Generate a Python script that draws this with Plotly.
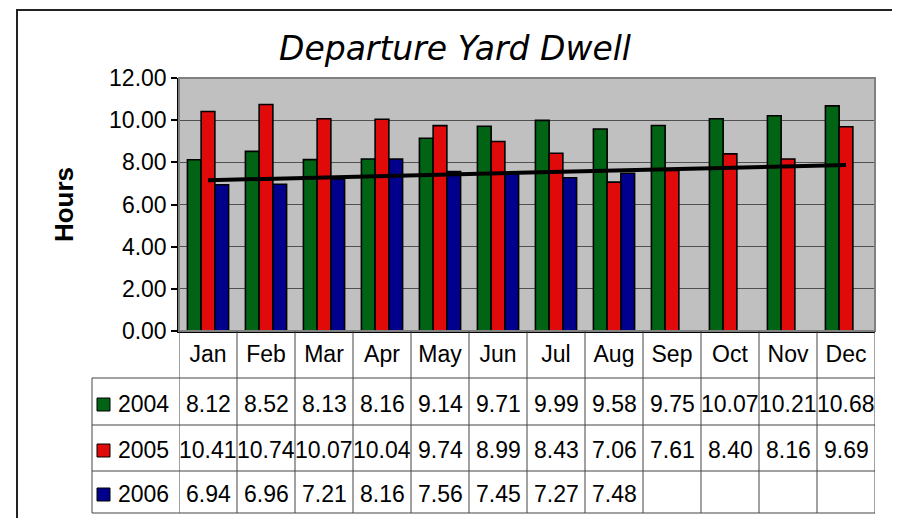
import plotly.graph_objects as go

# ---------------- data ----------------
months = ["Jan", "Feb", "Mar", "Apr", "May", "Jun", "Jul", "Aug", "Sep", "Oct", "Nov", "Dec"]
series_names = ["2004", "2005", "2006"]
y2004 = [8.12, 8.52, 8.13, 8.16, 9.14, 9.71, 9.99, 9.58, 9.75, 10.07, 10.21, 10.68]
y2005 = [10.41, 10.74, 10.07, 10.04, 9.74, 8.99, 8.43, 7.06, 7.61, 8.40, 8.16, 9.69]
y2006 = [6.94, 6.96, 7.21, 8.16, 7.56, 7.45, 7.27, 7.48, None, None, None, None]
trend_x = ["Jan", "Dec"]
trend_y = [7.15, 7.87]
y_ticks = [0, 2, 4, 6, 8, 10, 12]

colors = ["#006414", "#E00A0A", "#00008C"]
series = [y2004, y2005, y2006]

# ---------------- geometry (pixels, page coordinates) ----------------
OFF = 8  # default body margin of the html page
W, H = 900 - OFF, 518 - OFF
PL, PR, PT, PB = 179, 875, 78, 331  # plot area in page pixels


def px(p):
    return (p - PL) / (PR - PL)


def py(p):
    return (PB - p) / (PB - PT)


FONT = "Liberation Sans, Arial, sans-serif"
FS = 23

fig = go.Figure()
for name, vals, col in zip(series_names, series, colors):
    fig.add_trace(go.Bar(
        x=months, y=vals, name=name,
        marker=dict(color=col, line=dict(color="black", width=1.6)),
        showlegend=False,
    ))

fig.add_trace(go.Scatter(
    x=trend_x, y=trend_y, mode="lines",
    line=dict(color="black", width=4), showlegend=False,
))

shapes = []
# plot-area border
shapes.append(dict(type="rect", xref="paper", yref="paper", x0=0, x1=1, y0=0, y1=1,
                   line=dict(color="#808080", width=2), layer="above"))
# outer frame
shapes.append(dict(type="rect", xref="paper", yref="paper",
                   x0=px(17), x1=px(893), y0=py(545), y1=py(10),
                   line=dict(color="#222222", width=2)))

row_lines = [378, 425, 471, 513]
row_centers = [402, 448, 492]
tcol = "#444444"
for r in row_lines:
    shapes.append(dict(type="line", xref="paper", yref="paper",
                       x0=px(92), x1=1, y0=py(r), y1=py(r),
                       line=dict(color=tcol, width=1)))
for k in range(len(months) + 1):
    shapes.append(dict(type="line", xref="x", yref="paper",
                       x0=k - 0.5, x1=k - 0.5, y0=0, y1=py(513),
                       line=dict(color=tcol, width=1)))
shapes.append(dict(type="line", xref="paper", yref="paper",
                   x0=px(92), x1=px(92), y0=py(378), y1=py(513),
                   line=dict(color=tcol, width=1)))

annotations = []
for name, vals, col, c in zip(series_names, series, colors, row_centers):
    shapes.append(dict(type="rect", xref="paper", yref="paper",
                       x0=px(97), x1=px(110), y0=py(c + 9), y1=py(c - 4),
                       fillcolor=col, line=dict(color="black", width=1)))
    annotations.append(dict(xref="paper", yref="paper", x=px(116), y=py(c + 2),
                            text=name, showarrow=False, xanchor="left", yanchor="middle",
                            font=dict(family=FONT, size=FS, color="black")))
    for m, v in zip(months, vals):
        if v is None:
            continue
        annotations.append(dict(xref="x", yref="paper", x=m, y=py(c + 2),
                                text=f"{v:.2f}", showarrow=False,
                                xanchor="center", yanchor="middle",
                                font=dict(family=FONT, size=FS, color="black")))

fig.update_layout(
    width=W, height=H,
    margin=dict(l=PL - OFF, r=W - (PR - OFF), t=PT - OFF, b=H - (PB - OFF), pad=0),
    paper_bgcolor="white",
    plot_bgcolor="#C0C0C0",
    barmode="group", bargap=0.29, bargroupgap=0,
    title=dict(text="<i>Departure Yard Dwell</i>", xref="container", yref="container",
               x=(455 - OFF) / W, y=1 - (48 - OFF) / H, xanchor="center", yanchor="middle",
               font=dict(family="DejaVu Sans, Verdana, sans-serif", size=33, color="black")),
    xaxis=dict(type="category", categoryorder="array", categoryarray=months,
               range=[-0.5, len(months) - 0.5],
               showline=True, linecolor="black", linewidth=1.5,
               ticks="", showgrid=False,
               tickfont=dict(family=FONT, size=FS, color="black"),
               ticklabelstandoff=2),
    yaxis=dict(range=[0, 12], tickvals=y_ticks, tickformat=".2f",
               showline=True, linecolor="black", linewidth=1.5,
               ticks="outside", ticklen=6, tickcolor="black", tickwidth=1.5,
               showgrid=True, gridcolor="#505050", gridwidth=1.2,
               zeroline=False,
               tickfont=dict(family=FONT, size=FS, color="black"),
               title=dict(text="<b>Hours</b>", standoff=28,
                          font=dict(family=FONT, size=26, color="black"))),
    shapes=shapes,
    annotations=annotations,
)

fig.write_html("out.html")
